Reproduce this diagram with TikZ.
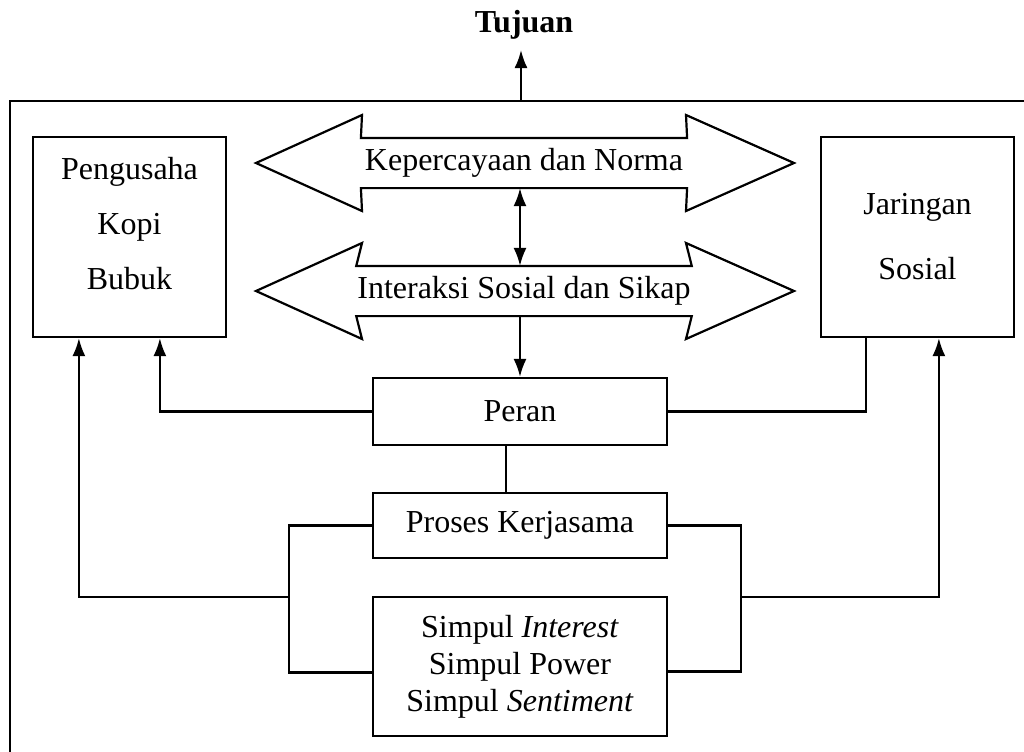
\documentclass[tikz,border=0pt]{standalone}
\usepackage{fontspec}
\setmainfont{Liberation Serif}
\usetikzlibrary{arrows.meta,calc}
\begin{document}
\begin{tikzpicture}[x=0.5pt,y=-0.5pt, line width=1.1pt,
  txt/.style={font=\fontsize{16}{28}\selectfont, align=center, inner sep=0pt},
  box/.style={draw, inner sep=0pt},
  arr/.style={-{Latex[length=9pt,width=6.5pt]}},
  darr/.style={{Latex[length=9pt,width=6.5pt]}-{Latex[length=9pt,width=6.5pt]}},
  bigarrow/.style={draw, line join=miter}
  ]
\useasboundingbox (0,0) rectangle (1024,751);

% outer frame (runs off the page on right and bottom)
\draw (1040,101) -- (10,101) -- (10,770);

% title
\node[font=\bfseries\fontsize{16}{18}\selectfont, inner sep=0pt] (tuj) at (524,25) {Tujuan};
\coordinate (ft) at (521,101);
\coordinate (tt) at (521,50);
\draw[arr] (ft) -- (tt);

% side boxes
\node[box, minimum width=96.5pt, minimum height=100pt] (pk) at (129.5,237) {};
\node[txt, font=\fontsize{16}{27.5}\selectfont] (pkt) at (129.5,224) {Pengusaha\\Kopi\\Bubuk};
\node[box, minimum width=96.5pt, minimum height=100pt] (js) at (917.5,237) {};
\node[txt, font=\fontsize{16}{32.5}\selectfont] (jst) at (917.5,237) {Jaringan\\Sosial};

% big double arrows
\node[txt, minimum width=162pt, minimum height=24pt] (kn) at (524,163) {Kepercayaan dan Norma};
\draw[bigarrow] (kn.north west) -- (kn.north east) -- (686,115) -- (794,163) -- (686,211)
  -- (kn.south east) -- (kn.south west) -- (362,211) -- (256,163) -- (362,115) -- cycle;

\node[txt, minimum width=162pt, minimum height=24pt] (is) at (524,291) {Interaksi Sosial dan Sikap};
\draw[bigarrow] (is.north west) -- (is.north east) -- (686,243) -- (794,291) -- (686,339)
  -- (is.south east) -- (is.south west) -- (362,339) -- (256,291) -- (362,243) -- cycle;

% centre boxes
\node[box, txt, minimum width=147pt, minimum height=33.5pt] (peran) at (520,411.5) {Peran};
\node[box, txt, minimum width=147pt, minimum height=32.5pt] (proses) at (520,525.5) {Proses Kerjasama};
\node[box, txt, font=\fontsize{16}{18.5}\selectfont, minimum width=147pt, minimum height=69.5pt] (simpul) at (520,666.5)
  {Simpul \textit{Interest}\\Simpul Power\\Simpul \textit{Sentiment}};

% vertical arrows
\draw[darr] (kn.south -| peran.north) -- (is.north -| peran.north);
\draw[arr] (is.south -| peran.north) -- (peran.north);

% Peran to side boxes
\draw[arr] (peran.west) -| ([xshift=64pt]pk.south west);
\draw (peran.east) -| ([xshift=23pt]js.south west);
\draw ([xshift=-7pt]peran.south) -- ([xshift=-7pt]proses.north);

% brackets
\coordinate (lj) at (289,597);
\coordinate (rj) at (741,597);
\draw (proses.west) -| (lj) |- ([yshift=-3pt]simpul.west);
\draw (proses.east) -| (rj) |- ([yshift=-2.5pt]simpul.east);
\draw[arr] (lj) -| ([xshift=23.5pt]pk.south west);
\draw[arr] (rj) -| ([xshift=59.5pt]js.south west);
\end{tikzpicture}
\end{document}
